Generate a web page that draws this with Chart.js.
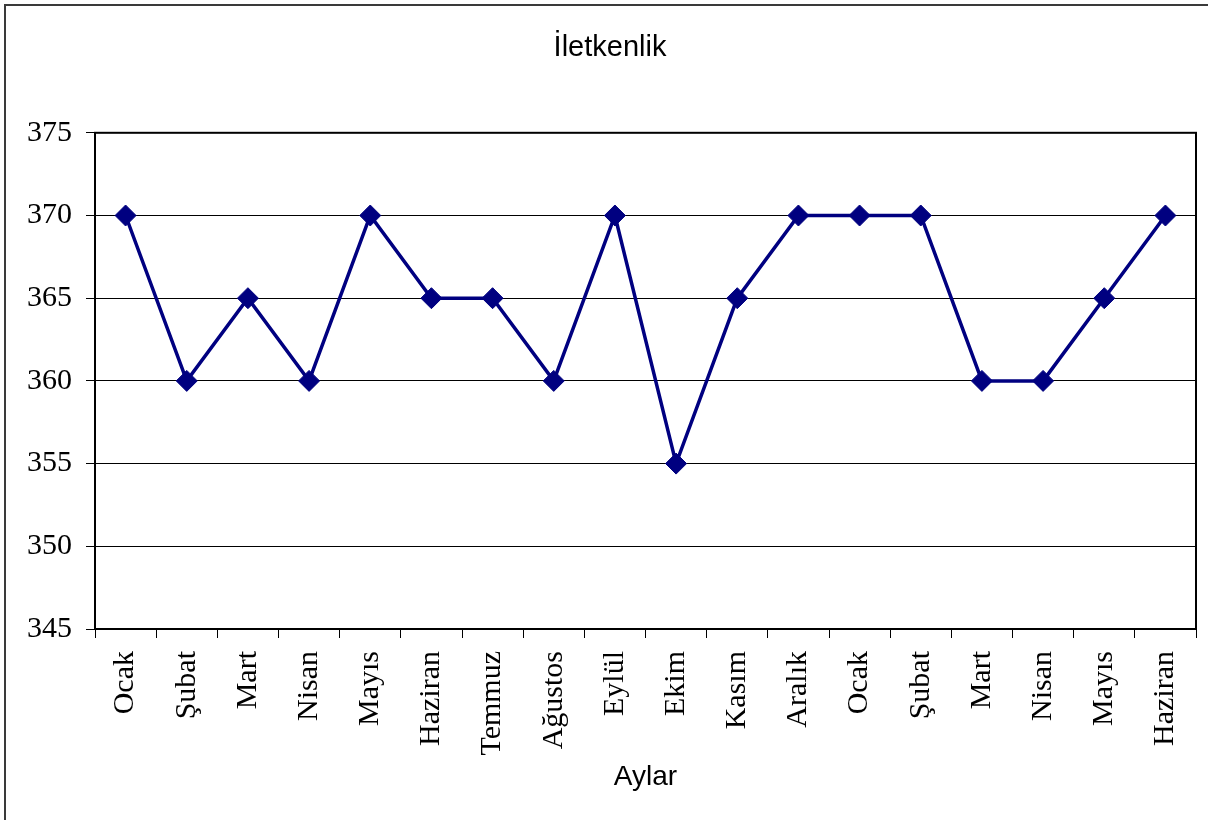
<!DOCTYPE html>
<html lang="tr">
<head>
<meta charset="utf-8">
<title>İletkenlik</title>
<script src="https://cdn.jsdelivr.net/npm/chart.js@4/dist/chart.umd.min.js"></script>
<style>
  html, body { margin: 0; padding: 0; background: #fff; }
  #wrap { width: 1208px; height: 820px; }
</style>
</head>
<body>
<div id="wrap"><canvas id="c" width="1208" height="820"></canvas></div>
<script>
// Monthly conductivity readings
const months = ["Ocak", "Şubat", "Mart", "Nisan", "Mayıs", "Haziran", "Temmuz", "Ağustos",
  "Eylül", "Ekim", "Kasım", "Aralık", "Ocak", "Şubat", "Mart", "Nisan", "Mayıs", "Haziran"];
const conductivity = [370, 360, 365, 360, 370, 365, 365, 360, 370, 355, 365, 370, 370, 370, 360, 360, 365, 370];
const yMin = 345, yMax = 375, yStep = 5;
const chartTitle = "İletkenlik";
const xTitle = "Aylar";

// Frame around the whole figure and box around the plot area
const framePlugin = {
  id: 'frames',
  afterDraw(chart) {
    const ctx = chart.ctx;
    const a = chart.chartArea;
    ctx.save();
    ctx.strokeStyle = '#3a3a3a';
    ctx.lineWidth = 2;
    ctx.beginPath();
    ctx.moveTo(5, 820);
    ctx.lineTo(5, 5);
    ctx.lineTo(1208, 5);
    ctx.stroke();
    ctx.strokeStyle = '#000';
    ctx.lineWidth = 2;
    ctx.strokeRect(a.left, a.top, a.right - a.left, a.bottom - a.top);
    ctx.restore();
  }
};

new Chart(document.getElementById('c'), {
  type: 'line',
  data: {
    labels: months,
    datasets: [{
      data: conductivity,
      borderColor: '#000080',
      backgroundColor: '#000080',
      borderWidth: 3.5,
      pointStyle: 'rectRot',
      pointRadius: 10.5,
      pointBorderWidth: 1,
      pointBorderColor: '#000080',
      pointBackgroundColor: '#000080',
      tension: 0,
      fill: false
    }]
  },
  options: {
    responsive: false,
    animation: false,
    layout: { padding: { left: 24, right: 12, top: 0, bottom: 0 } },
    plugins: {
      legend: { display: false },
      tooltip: { enabled: false },
      title: {
        display: true,
        text: chartTitle,
        color: '#000',
        font: { family: 'Liberation Sans', size: 29, weight: 'normal' },
        padding: { top: 31, bottom: 67 }
      }
    },
    scales: {
      x: {
        offset: true,
        grid: {
          offset: true,
          drawOnChartArea: false,
          drawTicks: true,
          tickLength: 9,
          color: '#000',
          lineWidth: 1
        },
        border: { display: true, color: '#000', width: 2 },
        ticks: {
          autoSkip: false,
          maxRotation: 90,
          minRotation: 90,
          padding: 13,
          color: '#000',
          font: { family: 'Liberation Serif', size: 30 }
        },
        title: {
          display: true,
          text: xTitle,
          color: '#000',
          font: { family: 'Liberation Sans', size: 28 },
          padding: { top: 26, bottom: 26 }
        },
        afterFit(scale) {
          scale.height = 191;
          scale.paddingLeft = 0;
          scale.paddingRight = 0;
        }
      },
      y: {
        min: yMin,
        max: yMax,
        grid: {
          color: '#000',
          lineWidth: 1,
          drawTicks: true,
          tickLength: 9
        },
        border: { display: true, color: '#000', width: 2 },
        ticks: {
          stepSize: yStep,
          padding: 14,
          color: '#000',
          font: { family: 'Liberation Serif', size: 30 }
        },
        afterFit(scale) { scale.width = 71; }
      }
    }
  },
  plugins: [framePlugin]
});
</script>
</body>
</html>
